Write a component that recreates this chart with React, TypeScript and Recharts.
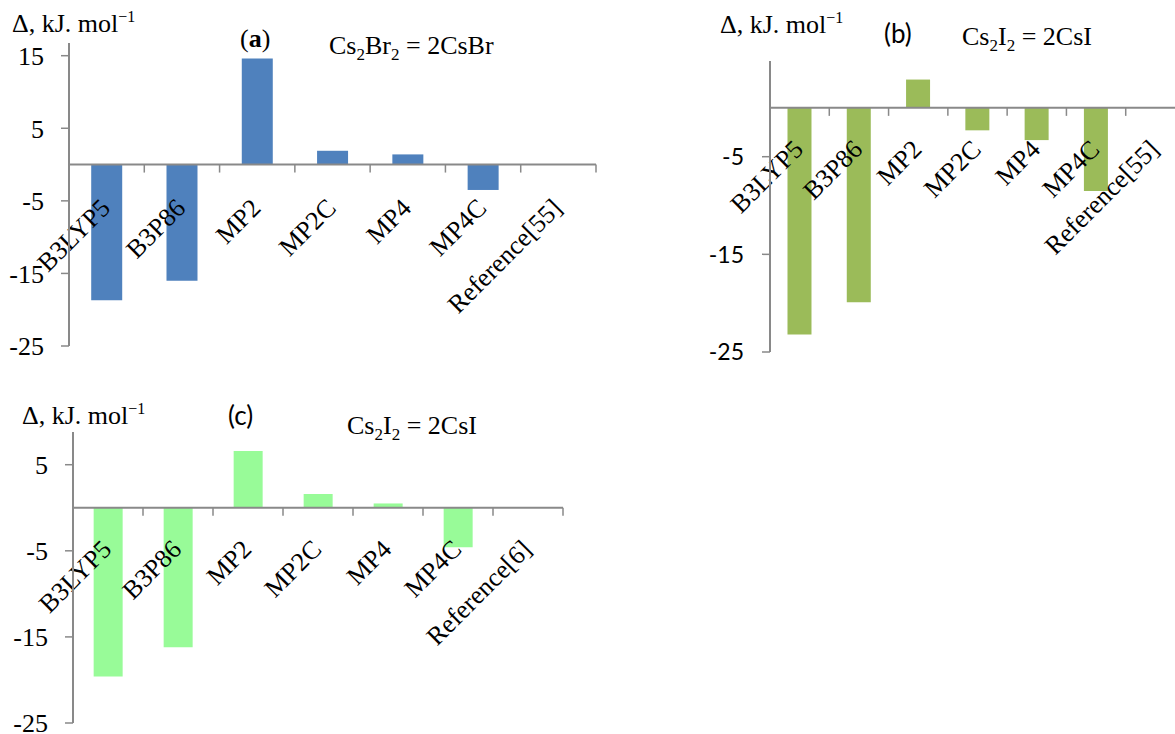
import { BarChart, Bar, XAxis, YAxis, ReferenceLine } from "recharts";

const AXIS_GREY = "#898989";
const SERIF = '"Liberation Serif", "Times New Roman", serif';
const SANS = 'Lato, "Open Sans", sans-serif';

// methods along the category axis
const methods = ["B3LYP5", "B3P86", "MP2", "MP2C", "MP4", "MP4C"];
const categoriesA = [...methods, "Reference[55]"];
const categoriesB = [...methods, "Reference[55]"];
const categoriesC = [...methods, "Reference[6]"];

// Δ, kJ/mol relative to the reference value
const deltaCs2Br2 = [-18.7, -16.0, 14.6, 1.9, 1.4, -3.5, 0];
const deltaCs2I2b = [-23.2, -19.9, 2.9, -2.3, -3.3, -8.5, 0];
const deltaCs2I2c = [-19.6, -16.2, 6.6, 1.6, 0.5, -4.6, 0];

const ticksA = [-25, -15, -5, 5, 15];
const ticksB = [-25, -15, -5];
const ticksC = [-25, -15, -5, 5];

// the category axis crosses at zero, so it is drawn on the y=0 reference line
function zeroAxis(categories: string[], labelDx: number, labelDy: number, fontSize: number) {
  return (props: any) => {
    const { x1, x2, y1 } = props;
    const step = (x2 - x1) / categories.length;
    return (
      <g>
        <line x1={x1} y1={y1} x2={x2} y2={y1} stroke={AXIS_GREY} strokeWidth={2} />
        {categories.map((c, i) => (
          <line
            key={"t" + c}
            x1={x1 + (i + 1) * step}
            x2={x1 + (i + 1) * step}
            y1={y1}
            y2={y1 + 8}
            stroke={AXIS_GREY}
            strokeWidth={1.5}
          />
        ))}
        {categories.map((c, i) => {
          const tx = x1 + (i + 0.5) * step + labelDx;
          const ty = y1 + labelDy;
          return (
            <text
              key={c}
              x={tx}
              y={ty}
              transform={`rotate(-45 ${tx} ${ty})`}
              textAnchor="end"
              fontFamily={SERIF}
              fontSize={fontSize}
              fill="#000"
            >
              {c}
            </text>
          );
        })}
      </g>
    );
  };
}

type PanelProps = {
  categories: string[];
  values: number[];
  color: string;
  domain: [number, number];
  ticks: number[];
  width: number;
  height: number;
  margin: { top: number; right: number; bottom: number; left: number };
  yAxisWidth: number;
  tickFamily: string;
  tickSize: number;
  tickMargin: number;
  labelDy: number;
};

function Panel(p: PanelProps) {
  const data = p.categories.map((method, i) => ({ method, delta: p.values[i] }));
  return (
    <BarChart width={p.width} height={p.height} data={data} margin={p.margin} barCategoryGap="29.5%">
      <XAxis dataKey="method" hide />
      <YAxis
        type="number"
        domain={p.domain}
        ticks={p.ticks}
        interval={0}
        width={p.yAxisWidth}
        axisLine={{ stroke: AXIS_GREY, strokeWidth: 2 }}
        tickLine={{ stroke: AXIS_GREY, strokeWidth: 1.5 }}
        tickSize={8}
        tickMargin={p.tickMargin}
        tick={{ fill: "#000", fontSize: p.tickSize, fontFamily: p.tickFamily }}
      />
      <Bar dataKey="delta" fill={p.color} isAnimationActive={false} />
      <ReferenceLine y={0} shape={zeroAxis(p.categories, 5, p.labelDy, 26)} />
    </BarChart>
  );
}

function DeltaUnit({ x, y }: { x: number; y: number }) {
  return (
    <text x={x} y={y} fontFamily={SERIF} fontSize={26} fill="#000">
      Δ, kJ. mol
      <tspan dy={-10} fontSize={16}>
        −1
      </tspan>
    </text>
  );
}

function Formula({ x, y, left }: { x: number; y: number; left: string }) {
  return (
    <text x={x} y={y} fontFamily={SERIF} fontSize={26} fill="#000">
      Cs
      <tspan dy={6} fontSize={17}>2</tspan>
      <tspan dy={-6}>{left}</tspan>
      <tspan dy={6} fontSize={17}>2</tspan>
      <tspan dy={-6}>{" = 2Cs" + left}</tspan>
    </text>
  );
}

export default function App() {
  return (
    <div
      style={{
        position: "absolute",
        left: 0,
        top: 0,
        width: 1175,
        height: 734,
        overflow: "hidden",
        background: "#fff",
      }}
    >
      <div style={{ position: "absolute", left: 0, top: 0 }}>
        <Panel
          categories={categoriesA}
          values={deltaCs2Br2}
          color="#4F81BD"
          domain={[-25, 16.75]}
          ticks={ticksA}
          width={610}
          height={360}
          margin={{ top: 43, right: 14, bottom: 14, left: 0 }}
          yAxisWidth={69}
          tickFamily={SERIF}
          tickSize={26}
          tickMargin={17}
          labelDy={45}
        />
      </div>
      <div style={{ position: "absolute", left: 700, top: 0 }}>
        <Panel
          categories={categoriesB}
          values={deltaCs2I2b}
          color="#9BBB59"
          domain={[-25, 4.8]}
          ticks={ticksB}
          width={485}
          height={370}
          margin={{ top: 61, right: 0, bottom: 18, left: 0 }}
          yAxisWidth={70}
          tickFamily={SANS}
          tickSize={23}
          tickMargin={18}
          labelDy={43}
        />
      </div>
      <div style={{ position: "absolute", left: 0, top: 380 }}>
        <Panel
          categories={categoriesC}
          values={deltaCs2I2c}
          color="#98FB98"
          domain={[-25, 8.8]}
          ticks={ticksC}
          width={580}
          height={354}
          margin={{ top: 52, right: 17, bottom: 11, left: 0 }}
          yAxisWidth={73}
          tickFamily={SERIF}
          tickSize={26}
          tickMargin={17}
          labelDy={43}
        />
      </div>
      <svg
        width={1175}
        height={734}
        style={{ position: "absolute", left: 0, top: 0, pointerEvents: "none" }}
      >
        <DeltaUnit x={12} y={32} />
        <text x={240} y={47} fontFamily={SERIF} fontSize={26} fill="#000">
          (<tspan fontWeight="bold">a</tspan>)
        </text>
        <Formula x={329} y={54} left="Br" />

        <DeltaUnit x={720} y={33} />
        <text x={884} y={43} fontFamily={SANS} fontSize={26} fill="#000">
          (b)
        </text>
        <Formula x={962} y={45} left="I" />

        <DeltaUnit x={22} y={424} />
        <text x={228} y={425} fontFamily={SANS} fontSize={26} fill="#000">
          (c)
        </text>
        <Formula x={347} y={434} left="I" />
      </svg>
    </div>
  );
}
